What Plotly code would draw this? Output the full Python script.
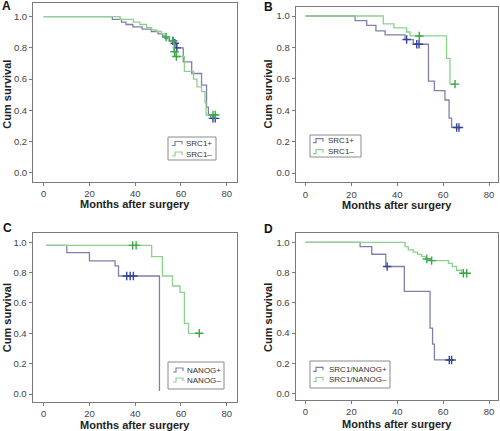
import plotly.graph_objects as go

# ---------------- data ----------------
month_ticks = [0, 20, 40, 60, 80]
surv_ticks = [0.0, 0.2, 0.4, 0.6, 0.8, 1.0]

# Panel A : SRC1
a_pos_t = [0, 30, 34, 36, 39, 43, 47, 50, 52, 53, 55, 57, 58, 61, 64.7, 69, 71.2, 72, 73, 75.5]
a_pos_s = [1.0, 0.983, 0.965, 0.95, 0.935, 0.92, 0.905, 0.89, 0.875, 0.86, 0.845, 0.83, 0.80, 0.71, 0.636, 0.561, 0.42, 0.37, 0.348, 0.348]
a_pos_cens = [56.5, 57.3, 58.2, 74.0, 75.0]
a_neg_t = [0, 33.4, 39.2, 42, 45, 47.2, 49.4, 51.5, 53, 54.5, 56.9, 57.8, 61.5, 65.5, 67, 69, 70.5, 71, 75.5]
a_neg_s = [1.0, 0.983, 0.965, 0.95, 0.93, 0.915, 0.905, 0.89, 0.87, 0.845, 0.775, 0.745, 0.65, 0.60, 0.55, 0.52, 0.45, 0.37, 0.37]
a_neg_cens = [53.5, 56.6, 57.2, 58.0, 74.0, 75.0]

# Panel B : SRC1
b_pos_t = [0, 21.6, 26.7, 30.7, 34.7, 43.4, 47.0, 53.6, 56.2, 60.8, 62.6, 63.7, 67.0]
b_pos_s = [1.0, 0.97, 0.94, 0.905, 0.88, 0.85, 0.82, 0.585, 0.525, 0.465, 0.35, 0.29, 0.29]
b_pos_cens = [44.1, 48.5, 49.5, 65.9, 66.9]
b_neg_t = [0, 33.9, 38.6, 44.1, 45.6, 61.5, 63.0, 65.2]
b_neg_s = [1.0, 0.95, 0.924, 0.898, 0.873, 0.73, 0.566, 0.566]
b_neg_cens = [49.6, 65.2]

# Panel C : NANOG
c_pos_t = [1, 10.1, 20.0, 31.2, 32.7, 50.6, 50.6]
c_pos_s = [0.98, 0.932, 0.877, 0.844, 0.778, 0.02, 0.02]
c_pos_cens = [36.3, 37.8, 39.2]
c_neg_t = [1, 47.2, 51.9, 56.3, 59.6, 61.5, 63.3, 68.0]
c_neg_s = [0.98, 0.905, 0.778, 0.712, 0.67, 0.466, 0.40, 0.40]
c_neg_cens = [38.9, 40.4, 68.0]

# Panel D : SRC1/NANOG
d_pos_t = [0, 23.8, 28.9, 35.0, 43.1, 54.3, 55.4, 56.2, 63.7]
d_pos_s = [1.0, 0.971, 0.921, 0.84, 0.675, 0.433, 0.327, 0.222, 0.222]
d_pos_cens = [35.6, 62.7, 63.7]
d_neg_t = [0, 43.4, 44.8, 47.0, 48.9, 50.7, 52.4, 54.3, 62.3, 64.0, 65.9, 68.1, 70.3]
d_neg_s = [1.0, 0.971, 0.95, 0.935, 0.92, 0.905, 0.89, 0.879, 0.86, 0.84, 0.815, 0.795, 0.795]
d_neg_cens = [52.9, 55.0, 68.8, 70.3]

panel_labels = ["A", "B", "C", "D"]
legend_names = [["SRC1+", "SRC1\u2013"], ["SRC1+", "SRC1\u2013"],
                ["NANOG+", "NANOG\u2013"], ["SRC1/NANOG+", "SRC1/NANOG\u2013"]]
x_title = "Months after surgery"
y_title = "Cum survival"

# ---------------- styling ----------------
FONT = "Liberation Sans, Arial, sans-serif"
POS_LINE = "#7e80ac"
NEG_LINE = "#8fcf8f"
POS_CENS = "#33439a"
NEG_CENS = "#3aa846"
FRAME = "#7a7a7a"

W, H = 500, 431


def step_value(ts, ss, t):
    v = ss[0]
    for ti, si in zip(ts, ss):
        if ti <= t:
            v = si
    return v


# pixel layout of each panel (frame, tick anchors, legend box, letters, titles)
panels = [
    dict(pos=(a_pos_t, a_pos_s, a_pos_cens), neg=(a_neg_t, a_neg_s, a_neg_cens),
         px=(33, 237), py=(3, 181.5), x0=43.7, x80=226.7, y1=16.7, y0=172.7,
         box=(168, 137, 216, 160), rows=(143.5, 154), gx=172, tx=185,
         letter=(1, 6.5), ytx=7, xty=203.5),
    dict(pos=(b_pos_t, b_pos_s, b_pos_cens), neg=(b_neg_t, b_neg_s, b_neg_cens),
         px=(295.7, 498.3), py=(7, 182.3), x0=305.5, x80=489, y1=16, y0=173,
         box=(310, 135, 361, 157), rows=(140.7, 151.7), gx=313, tx=327,
         letter=(263, 7), ytx=268, xty=204.5),
    dict(pos=(c_pos_t, c_pos_s, c_pos_cens), neg=(c_neg_t, c_neg_s, c_neg_cens),
         px=(32.5, 237), py=(233.3, 401.5), x0=43.7, x80=226.7, y1=242.3, y0=394,
         box=(168, 362, 224, 389), rows=(370, 380), gx=173, tx=186,
         letter=(2, 228), ytx=7, xty=425),
    dict(pos=(d_pos_t, d_pos_s, d_pos_cens), neg=(d_neg_t, d_neg_s, d_neg_cens),
         px=(295.5, 498.3), py=(233, 400), x0=305.5, x80=489, y1=242.3, y0=393.5,
         box=(310, 361, 390, 388), rows=(369.3, 379.5), gx=313, tx=328,
         letter=(263, 228.5), ytx=268, xty=424),
]


def fx(v):
    return v / W


def fy(v):
    return 1 - v / H


fig = go.Figure()
layout = dict(width=W, height=H, margin=dict(l=0, r=0, t=0, b=0),
              paper_bgcolor="white", plot_bgcolor="white", showlegend=False,
              font=dict(family=FONT, size=10, color="#444"),
              annotations=[], shapes=[])

for i, p in enumerate(panels):
    k = "" if i == 0 else str(i + 1)
    xa, ya = "x" + k, "y" + k
    pxu = (p["x80"] - p["x0"]) / 80.0
    pyu = (p["y0"] - p["y1"])
    xr = [(p["px"][0] - p["x0"]) / pxu, (p["px"][1] - p["x0"]) / pxu]
    yr = [(p["y0"] - p["py"][1]) / pyu, (p["y0"] - p["py"][0]) / pyu]

    for (ts, ss, cens), lc, cc, name in [
        (p["pos"], POS_LINE, POS_CENS, legend_names[i][0]),
        (p["neg"], NEG_LINE, NEG_CENS, legend_names[i][1]),
    ]:
        fig.add_trace(go.Scatter(x=ts, y=ss, mode="lines", line_shape="hv",
                                 line=dict(color=lc, width=1.3), name=name,
                                 xaxis=xa, yaxis=ya))
        fig.add_trace(go.Scatter(x=cens, y=[step_value(ts, ss, c) for c in cens],
                                 mode="markers", name=name + " censored",
                                 marker=dict(symbol="cross-thin", size=6,
                                             line=dict(color=cc, width=1.4)),
                                 xaxis=xa, yaxis=ya))

    axis_common = dict(showline=True, linecolor=FRAME, linewidth=1, mirror=True,
                       ticks="outside", ticklen=3, tickcolor=FRAME, showgrid=False,
                       zeroline=False, tickfont=dict(family=FONT, size=9.5, color="#444"))
    layout["xaxis" + k] = dict(axis_common, domain=[fx(p["px"][0]), fx(p["px"][1])],
                               range=xr, tickvals=month_ticks, anchor=ya)
    layout["yaxis" + k] = dict(axis_common, domain=[fy(p["py"][1]), fy(p["py"][0])],
                               range=yr, tickvals=surv_ticks, tickformat=".1f", anchor=xa)

    # legend box (drawn as a framed key with step glyphs and text)
    bx0, by0, bx1, by1 = p["box"]
    layout["shapes"].append(dict(type="rect", xref="paper", yref="paper",
                                 x0=fx(bx0), x1=fx(bx1), y0=fy(by1), y1=fy(by0),
                                 line=dict(color="#8a8a8a", width=1), fillcolor="white",
                                 layer="above"))
    for r, (ry, col) in enumerate(zip(p["rows"], [POS_LINE, NEG_LINE])):
        g = p["gx"]
        path = "M %.4f %.4f H %.4f V %.4f H %.4f V %.4f" % (
            fx(g), fy(ry + 2), fx(g + 3), fy(ry - 2), fx(g + 10), fy(ry + 1))
        layout["shapes"].append(dict(type="path", xref="paper", yref="paper", path=path,
                                     line=dict(color=col, width=1.2), layer="above"))
        layout["annotations"].append(dict(text=legend_names[i][r], xref="paper", yref="paper",
                                          x=fx(p["tx"]), y=fy(ry), xanchor="left", yanchor="middle",
                                          showarrow=False, borderpad=0,
                                          font=dict(family=FONT, size=8, color="#333")))

    # axis titles and panel letters
    layout["annotations"].append(dict(text="<b>%s</b>" % x_title, xref="paper", yref="paper",
                                      x=fx((p["x0"] + p["x80"]) / 2), y=fy(p["xty"]),
                                      showarrow=False, xanchor="center", yanchor="middle",
                                      borderpad=0,
                                      font=dict(family=FONT, size=11, color="#222")))
    layout["annotations"].append(dict(text="<b>%s</b>" % y_title, xref="paper", yref="paper",
                                      x=fx(p["ytx"]), y=fy((p["y1"] + p["y0"]) / 2),
                                      textangle=-90, showarrow=False, xanchor="center", yanchor="middle",
                                      font=dict(family=FONT, size=11, color="#222")))
    lx, ly = p["letter"]
    layout["annotations"].append(dict(text="<b>%s</b>" % panel_labels[i], xref="paper", yref="paper",
                                      x=fx(lx), y=fy(ly), showarrow=False,
                                      xanchor="left", yanchor="middle", borderpad=0,
                                      font=dict(family=FONT, size=12, color="#111")))

fig.update_layout(**layout)
fig.write_html("out.html", config={"displayModeBar": False},
               post_script="document.body.style.margin='0px';")
